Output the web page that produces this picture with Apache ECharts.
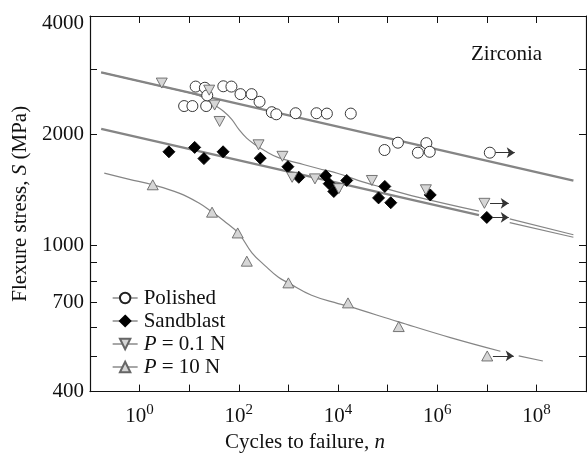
<!DOCTYPE html>
<html>
<head>
<meta charset="utf-8">
<script src="https://cdn.jsdelivr.net/npm/echarts@6/dist/echarts.min.js"></script>
<style>
  html, body { margin: 0; padding: 0; background: #fff; }
  #chart { width: 587px; height: 458px; }
</style>
</head>
<body>
<div id="chart"></div>
<script>
const FONT = 'Liberation Serif'

// measured points: cycles n, flexure stress S (MPa)
const polishedN = [7.9, 11.6, 13.5, 20.7, 22, 23.1, 48.7, 71, 108, 181, 262, 463, 570, 1400, 3690, 5970, 18100, 86700, 161500, 408000, 605000, 707000, 1.15e7]
const polishedS = [2390, 2390, 2700, 2680, 2390, 2555, 2705, 2700, 2575, 2575, 2455, 2300, 2270, 2285, 2285, 2280, 2280, 1815, 1900, 1785, 1895, 1795, 1785]
const sandN = [3.9, 12.9, 19.8, 48.2, 271, 977, 1620, 5650, 6640, 8240, 15000, 87900, 65700, 115900, 724000, 1e7]
const sandS = [1795, 1845, 1720, 1795, 1725, 1635, 1530, 1545, 1470, 1400, 1500, 1445, 1345, 1305, 1370, 1190]
const p01N = [2.8, 25.3, 32.6, 41, 250, 758, 1190, 3430, 10400, 48200, 591000, 8.95e6]
const p01S = [2760, 2640, 2405, 2170, 1875, 1745, 1530, 1515, 1425, 1500, 1415, 1300]
const p10N = [1.84, 28.9, 95, 145, 1000, 15900, 167600, 1.02e7]
const p10S = [1460, 1230, 1080, 905, 790, 697, 601, 500]
const arrowEnd = [3.66e7, 2.77e7, 2.77e7, 3.49e7] // runout arrows: polished, sandblast, 0.1N, 10N

// fitted curves
const polishedFitN = [0.168, 5.57e8]
const polishedFitS = [2950, 1498]
const sandFitN = [0.168, 6.95e6]
const sandFitS = [2072, 1208]
const sandExtN = [2.9e7, 5.57e8]
const sandExtS = [1152, 1051]
const p01FitN = [0.168, 1.56, 9.9, 19.8, 31.4, 49.8, 72.1, 99.5, 144, 215, 341, 630, 1585, 3990, 10050, 25300, 63600, 403000, 6.95e6]
const p01FitS = [2950, 2753, 2597, 2518, 2412, 2310, 2199, 2068, 1956, 1877, 1803, 1730, 1672, 1617, 1567, 1501, 1447, 1352, 1238]
const p01ExtN = [2.9e7, 5.57e8]
const p01ExtS = [1179, 1068]
const p10FitN = [0.194, 0.622, 1.84, 6.25, 15.7, 28.6, 49.8, 99.5, 184, 341, 630, 1000, 2930, 10050, 15900, 167500, 1.85e6, 1.88e7]
const p10FitS = [1570, 1511, 1460, 1386, 1303, 1233, 1166, 1077, 954, 879, 818, 790, 731, 694, 683, 619, 561, 515]
const p10ExtN = [4.4e7, 1.35e8]
const p10ExtS = [500, 484.5]

// axis ticks and labels
const xTicks = [1, 10, 100, 1e3, 1e4, 1e5, 1e6, 1e7, 1e8]
const xLabels = [1, 1e2, 1e4, 1e6, 1e8]
const yTicks = [500, 600, 700, 800, 900, 1000, 2000, 3000]
const yLabels = [400, 700, 1000, 2000, 4000]

function pts(xs, ys) {
  return xs.map((x, i) => [x, ys[i]])
}

function fitLine(xs, ys, width, smooth) { // gray fit curve
  return {
    type: 'line',
    data: pts(xs, ys),
    showSymbol: false,
    smooth: smooth ? 0.4 : false,
    silent: true,
    lineStyle: { color: '#858585', width: width },
    z: 1
  }
}

function runout(xs, ys, end) { // arrow from last point
  const i = xs.length - 1
  return {
    silent: true,
    symbol: ['none', 'arrow'],
    symbolSize: 8,
    label: { show: false },
    lineStyle: { color: '#333', width: 1, type: 'solid' },
    data: [[{ coord: [xs[i] * 1.3, ys[i]] }, { coord: [end, ys[i]] }]]
  }
}

function points(name, xs, ys, end, symbol, size, rotate, fill, border) {
  return {
    name: name,
    type: 'line',
    data: pts(xs, ys),
    symbol: symbol,
    symbolSize: size,
    symbolRotate: rotate,
    lineStyle: { opacity: 0 },
    itemStyle: { color: fill, borderColor: border, borderWidth: 0.9, opacity: 1 },
    markLine: runout(xs, ys, end),
    z: 3
  }
}

const tickStyle = { color: '#111', width: 1 }
const axisBase = {
  axisLine: { lineStyle: { color: '#111', width: 1.2 } },
  splitLine: { show: false },
  minorTick: { show: false }
}

const chart = echarts.init(document.getElementById('chart'), null, { renderer: 'canvas' })
chart.setOption({
  animation: false,
  backgroundColor: '#fff',
  grid: { left: 90, right: 1, top: 16, bottom: 60 },
  title: {
    text: 'Zirconia',
    left: 466,
    top: 39,
    textStyle: { fontFamily: FONT, fontSize: 21, fontWeight: 'normal', color: '#111' }
  },
  legend: {
    orient: 'vertical',
    left: 107,
    top: 282,
    itemWidth: 25,
    itemHeight: 13,
    itemGap: 1,
    selectedMode: false,
    data: ['Polished', 'Sandblast', 'P = 0.1 N', 'P = 10 N'],
    lineStyle: { color: '#777', width: 1.3, opacity: 1 },
    formatter: name => name.replace(/^P /, '{i|P} '),
    textStyle: {
      fontFamily: FONT, fontSize: 21, color: '#111', lineHeight: 22, padding: [0, 0, 0, 1],
      rich: { i: { fontFamily: FONT, fontSize: 21, fontStyle: 'italic', color: '#111' } }
    }
  },
  xAxis: [{
    ...axisBase,
    type: 'log',
    logBase: 10,
    min: 0.1,
    max: 1e9,
    position: 'bottom',
    axisTick: { inside: true, length: 7, customValues: xTicks, lineStyle: tickStyle },
    axisLabel: {
      customValues: xLabels,
      margin: 11,
      color: '#111',
      formatter: v => '{b|10}{s|' + Math.round(Math.log10(v)) + '}',
      rich: {
        b: { fontFamily: FONT, fontSize: 21, color: '#111' },
        s: { fontFamily: FONT, fontSize: 15, color: '#111', padding: [0, 0, 13, 0] }
      }
    },
    name: 'Cycles to failure, {i|n}',
    nameLocation: 'middle',
    nameGap: 32,
    nameTextStyle: {
      fontFamily: FONT, fontSize: 21, color: '#111', padding: [0, 66, 0, 0],
      rich: { i: { fontFamily: FONT, fontSize: 21, fontStyle: 'italic', color: '#111' } }
    }
  }, {
    ...axisBase,
    type: 'log',
    logBase: 10,
    min: 0.1,
    max: 1e9,
    position: 'top',
    axisTick: { inside: true, length: 7, customValues: xTicks, lineStyle: tickStyle },
    axisLabel: { show: false }
  }],
  yAxis: [{
    ...axisBase,
    type: 'log',
    logBase: 10,
    min: 400,
    max: 4200,
    position: 'left',
    axisTick: { inside: true, length: 7, customValues: yTicks, lineStyle: tickStyle },
    axisLabel: {
      customValues: yLabels,
      margin: 6,
      fontFamily: FONT,
      fontSize: 21,
      color: '#111',
      formatter: v => String(Math.round(v))
    },
    name: 'Flexure stress, {i|S} (MPa)',
    nameLocation: 'middle',
    nameGap: 56,
    nameTextStyle: {
      fontFamily: FONT, fontSize: 21, color: '#111',
      rich: { i: { fontFamily: FONT, fontSize: 21, fontStyle: 'italic', color: '#111' } }
    }
  }, {
    ...axisBase,
    type: 'log',
    logBase: 10,
    min: 400,
    max: 4200,
    position: 'right',
    axisTick: { inside: true, length: 7, customValues: yTicks, lineStyle: tickStyle },
    axisLabel: { show: false }
  }],
  series: [
    fitLine(polishedFitN, polishedFitS, 2.4, false),
    fitLine(sandFitN, sandFitS, 2.4, false),
    fitLine(sandExtN, sandExtS, 1.2, false),
    fitLine(p01FitN, p01FitS, 1.2, true),
    fitLine(p01ExtN, p01ExtS, 1.2, false),
    fitLine(p10FitN, p10FitS, 1.2, true),
    fitLine(p10ExtN, p10ExtS, 1.2, false),
    points('Polished', polishedN, polishedS, arrowEnd[0], 'circle', 11, 0, '#fff', '#222'),
    points('Sandblast', sandN, sandS, arrowEnd[1], 'diamond', 12, 0, '#000', '#000'),
    points('P = 0.1 N', p01N, p01S, arrowEnd[2], 'triangle', [11, 10], 180, '#d6d6d6', '#666'),
    points('P = 10 N', p10N, p10S, arrowEnd[3], 'triangle', [11, 10], 0, '#d6d6d6', '#666')
  ]
})
</script>
</body>
</html>
